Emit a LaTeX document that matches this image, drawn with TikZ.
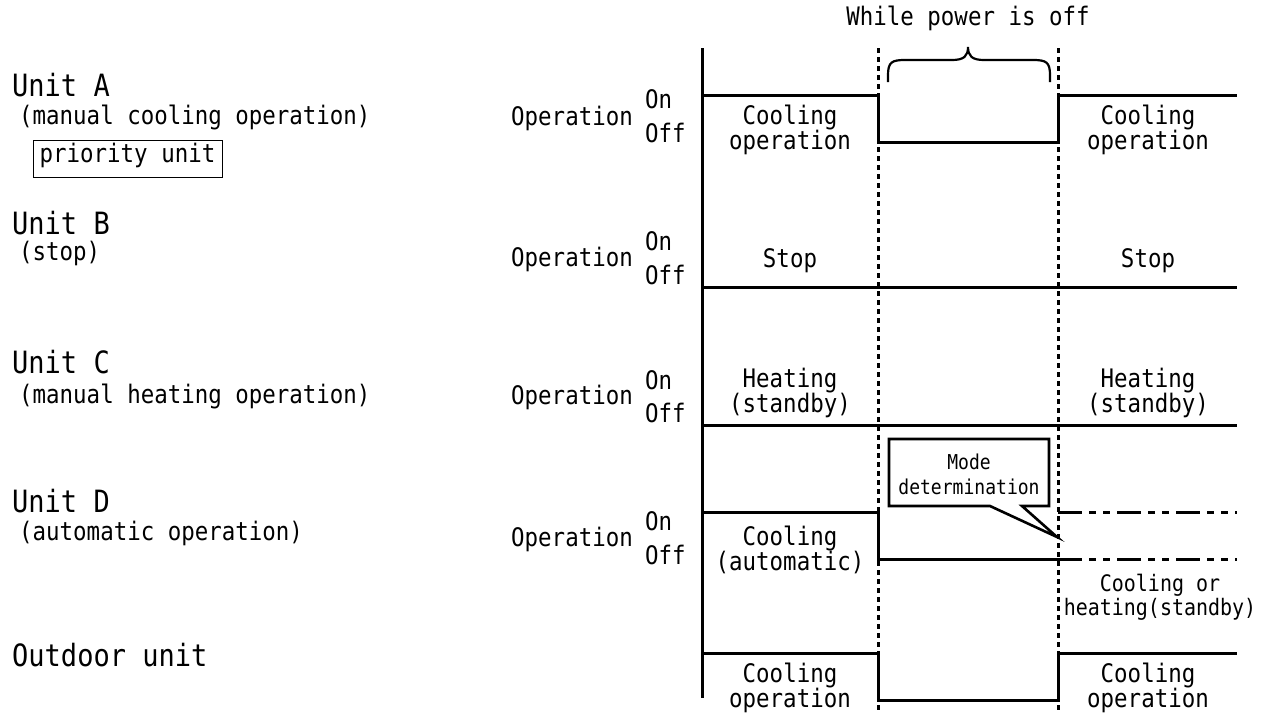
\documentclass[tikz,border=0pt]{standalone}
\usepackage{fontspec}
\setmainfont{DejaVu Sans Mono}[FakeStretch=0.88]
\usetikzlibrary{positioning}
\tikzset{
  txt/.style={font=\fontsize{25.5}{25}\selectfont, inner sep=0pt, align=center},
  line1/.style={txt, text height=0.73em, text depth=0pt},
  unit/.style={font=\fontsize{30.7}{32}\selectfont, inner sep=0pt, anchor=west, text height=0.73em, text depth=0pt},
  sub/.style={line1, anchor=west},
  tag/.style={txt, draw, line width=1pt, minimum width=189pt, minimum height=37pt, text height=0.73em, text depth=0pt},
  small/.style={txt, font=\fontsize{22.7}{24}\selectfont},
  sig/.style={line width=3pt, line join=miter},
  cut/.style={line width=3pt, dash pattern=on 5pt off 4pt},
  alt/.style={line width=3pt, dash pattern=on 24pt off 7pt on 7pt off 7pt on 7pt off 7pt},
}

\begin{document}
\begin{tikzpicture}[x=1pt, y=-1pt]
  \useasboundingbox (0,0) rectangle (1261,716);

  % unit names
  \node[unit] (ua) at (12,93) {Unit A};
  \node[sub] (uasub) at (19,121) {(manual cooling operation)};
  \node[tag] (prio) at (127.5,159) {priority unit};
  \node[unit] (ub) at (12,231) {Unit B};
  \node[sub] (ubsub) at (19,257) {(stop)};
  \node[unit] (uc) at (12,370) {Unit C};
  \node[sub] (ucsub) at (19,400) {(manual heating operation)};
  \node[unit] (ud) at (12,509) {Unit D};
  \node[sub] (udsub) at (19,537) {(automatic operation)};
  \node[unit] (uo) at (12,663) {Outdoor unit};

  % operation labels
  \node[line1, anchor=east] (opa) at (633,122) {Operation};
  \node[line1, anchor=west] (ona) at (645,105) {On};
  \node[line1, anchor=west] (offa) at (645,139) {Off};
  \node[line1, anchor=east] (opb) at (633,263) {Operation};
  \node[line1, anchor=west] (onb) at (645,247) {On};
  \node[line1, anchor=west] (offb) at (645,281) {Off};
  \node[line1, anchor=east] (opc) at (633,401) {Operation};
  \node[line1, anchor=west] (onc) at (645,386) {On};
  \node[line1, anchor=west] (offc) at (645,419) {Off};
  \node[line1, anchor=east] (opd) at (633,543) {Operation};
  \node[line1, anchor=west] (ond) at (645,527) {On};
  \node[line1, anchor=west] (offd) at (645,561) {Off};

  % time axis and power-off window
  \draw[sig] (702,48) -- (702,698);
  \draw[cut] (878,48) -- (878,710);
  \draw[cut] (1058,48) -- (1058,710);
  \draw[line width=2.2pt] (888,82) -- (888,75) .. controls (888,62) and (892,60) .. (905,60)
    -- (952,60) .. controls (964,60) and (968,56) .. (968,47)
    .. controls (968,56) and (972,60) .. (984,60) -- (1033,60)
    .. controls (1046,60) and (1050,62) .. (1050,75) -- (1050,82);
  \node[line1] (poff) at (968,22) {While power is off};

  % signals
  \draw[sig] (702,95) -- (878,95) -- (878,142) -- (1058,142) -- (1058,95) -- (1237,95);
  \draw[sig] (702,287) -- (1237,287);
  \draw[sig] (702,425) -- (1237,425);
  \draw[sig] (702,512) -- (878,512) -- (878,559) -- (1058,559);
  \draw[alt] (1058,512) -- (1237,512);
  \draw[alt] (1058,559) -- (1237,559);
  \draw[sig] (702,653) -- (878,653) -- (878,700) -- (1058,700) -- (1058,653) -- (1237,653);

  % states
  \node[txt] (acool) at (790,130) {Cooling\\operation};
  \node[txt] (acool2) at (1148,130) {Cooling\\operation};
  \node[line1] (bstop) at (790,264) {Stop};
  \node[line1] (bstop2) at (1148,264) {Stop};
  \node[txt] (cheat) at (790,393) {Heating\\(standby)};
  \node[txt] (cheat2) at (1148,393) {Heating\\(standby)};
  \node[txt] (dcool) at (790,550) {Cooling\\(automatic)};
  \node[small] (dnext) at (1160,597) {Cooling or\\heating(standby)};
  \node[txt] (ocool) at (790,688) {Cooling\\operation};
  \node[txt] (ocool2) at (1148,688) {Cooling\\operation};

  % callout
  \draw[line width=2.6pt, fill=white, line join=miter]
    (889,439) -- (1049,439) -- (1049,506) -- (1022,506) -- (1057,537) -- (990,506) -- (889,506) -- cycle;
  \node[txt, font=\fontsize{20.5}{25}\selectfont] (mode) at (969,474) {Mode\\determination};
\end{tikzpicture}
\end{document}
